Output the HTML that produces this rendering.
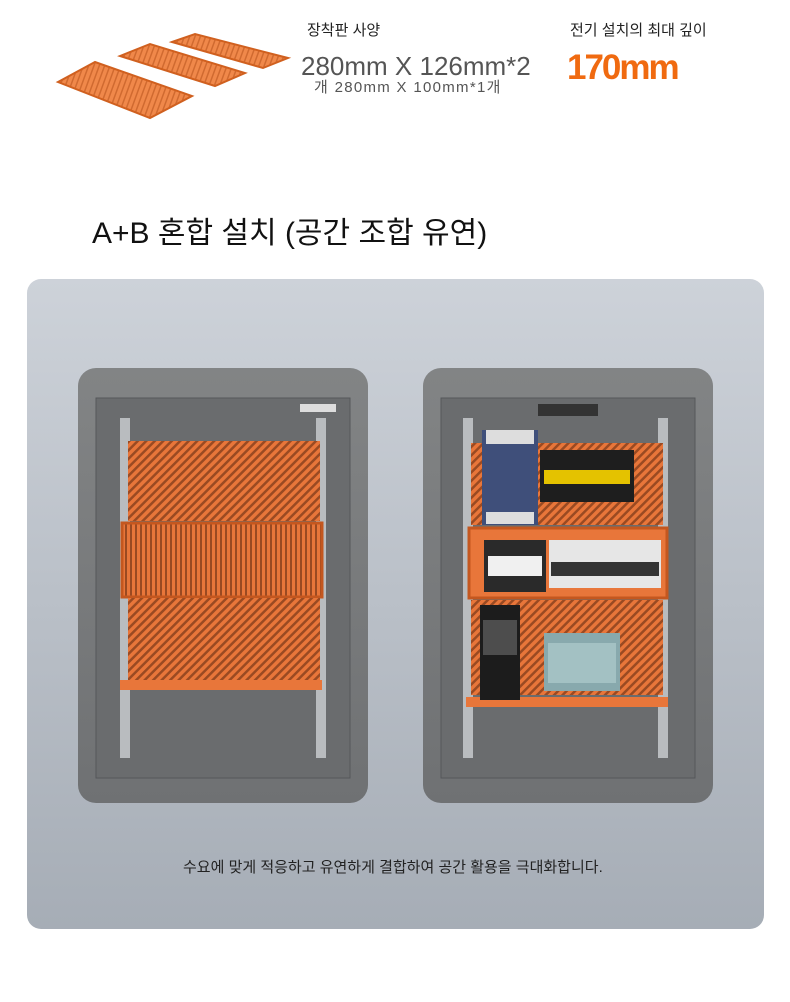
<!DOCTYPE html>
<html><head><meta charset="utf-8"><style>
body{margin:0;width:790px;height:1002px;background:#fff;position:relative;overflow:hidden;font-family:"Liberation Sans","Noto Sans CJK KR",sans-serif}
.t{position:absolute;white-space:nowrap}
</style></head><body>
<svg width="790" height="1002" style="position:absolute;left:0;top:0">
<defs>
<pattern id="h" width="6" height="6" patternUnits="userSpaceOnUse" patternTransform="rotate(45)"><rect width="6" height="6" fill="#e8763a"/><rect width="2.5" height="6" fill="#9a4a22"/></pattern>
<pattern id="v" width="5" height="5" patternUnits="userSpaceOnUse"><rect width="5" height="5" fill="#e8763a"/><rect width="2" height="5" fill="#9a4a22"/></pattern>
<pattern id="s" width="5" height="5" patternUnits="userSpaceOnUse" patternTransform="rotate(20)"><rect width="5" height="5" fill="#f0884a"/><rect width="1.5" height="5" fill="#d06a30"/></pattern>
<linearGradient id="bg" x1="0" y1="0" x2="0" y2="1"><stop offset="0" stop-color="#cdd2d9"/><stop offset="1" stop-color="#a6adb6"/></linearGradient>
<linearGradient id="cb" x1="0" y1="0" x2="0" y2="1"><stop offset="0" stop-color="#828485"/><stop offset="1" stop-color="#6f7173"/></linearGradient>
</defs>
<polygon points="58,82 95,62 192,96 150,118" fill="url(#s)" stroke="#d0601f" stroke-width="2"/>
<polygon points="120,56 150,44 245,73 215,86" fill="url(#s)" stroke="#d0601f" stroke-width="2"/>
<polygon points="172,42 195,34 288,58 263,68" fill="url(#s)" stroke="#d0601f" stroke-width="2"/>
<rect x="27" y="279" width="737" height="650" rx="14" fill="url(#bg)"/>
<rect x="78" y="368" width="290" height="435" rx="18" fill="url(#cb)"/>
<rect x="96" y="398" width="254" height="380" fill="#6a6c6e" stroke="#55575a"/>
<rect x="120" y="418" width="10" height="340" fill="#b9bcbf"/><rect x="316" y="418" width="10" height="340" fill="#b9bcbf"/>
<rect x="128" y="441" width="192" height="80" fill="url(#h)"/>
<rect x="122" y="523" width="200" height="74" fill="url(#v)" stroke="#c4571f" stroke-width="3"/>
<rect x="128" y="598" width="192" height="82" fill="url(#h)"/>
<rect x="120" y="680" width="202" height="10" fill="#e8763a"/>
<rect x="300" y="404" width="36" height="8" fill="#ddd"/>
<rect x="423" y="368" width="290" height="435" rx="18" fill="url(#cb)"/>
<rect x="441" y="398" width="254" height="380" fill="#6a6c6e" stroke="#55575a"/>
<rect x="463" y="418" width="10" height="340" fill="#b9bcbf"/><rect x="658" y="418" width="10" height="340" fill="#b9bcbf"/>
<rect x="471" y="443" width="192" height="82" fill="url(#h)"/>
<rect x="469" y="528" width="198" height="70" fill="#e8763a" stroke="#c4571f" stroke-width="3"/>
<rect x="471" y="600" width="192" height="95" fill="url(#h)"/>
<rect x="466" y="697" width="202" height="10" fill="#e8763a"/>
<rect x="538" y="404" width="60" height="12" fill="#333"/>
<rect x="482" y="430" width="56" height="95" fill="#3f4f7a"/><rect x="486" y="430" width="48" height="14" fill="#ddd"/><rect x="486" y="512" width="48" height="12" fill="#ddd"/>
<rect x="540" y="450" width="94" height="52" fill="#1e1e1e"/><rect x="544" y="470" width="86" height="14" fill="#e4c200"/>
<rect x="484" y="540" width="62" height="52" fill="#2a2a2a"/><rect x="488" y="556" width="54" height="20" fill="#f0f0f0"/>
<rect x="549" y="540" width="112" height="48" fill="#e6e6e6"/><rect x="551" y="562" width="108" height="14" fill="#333"/>
<rect x="480" y="605" width="40" height="95" fill="#1c1c1c"/><rect x="483" y="620" width="34" height="35" fill="#4d4d4d"/>
<rect x="544" y="633" width="76" height="58" fill="#88a9ad"/><rect x="548" y="643" width="68" height="40" fill="#a3c1c3"/>
</svg>
<div class="t" style="left:307px;top:19px;font-size:15px;color:#222">장착판 사양</div>
<div class="t" style="left:301px;top:52px;font-size:26px;line-height:28px;color:#555">280mm X 126mm*2</div>
<div class="t" style="left:314px;top:80px;font-size:15px;line-height:16px;letter-spacing:1.3px;color:#555">개 280mm X 100mm*1개</div>
<div class="t" style="left:570px;top:19px;font-size:15px;color:#222">전기 설치의 최대 깊이</div>
<div class="t" style="left:567px;top:48px;font-size:35px;font-weight:bold;color:#f06a10;letter-spacing:-2px">170mm</div>
<div class="t" style="left:92px;top:208px;font-size:30px;color:#111">A+B 혼합 설치 (공간 조합 유연)</div>
<div class="t" style="left:183px;top:856px;font-size:15px;color:#222">수요에 맞게 적응하고 유연하게 결합하여 공간 활용을 극대화합니다.</div>
</body></html>
